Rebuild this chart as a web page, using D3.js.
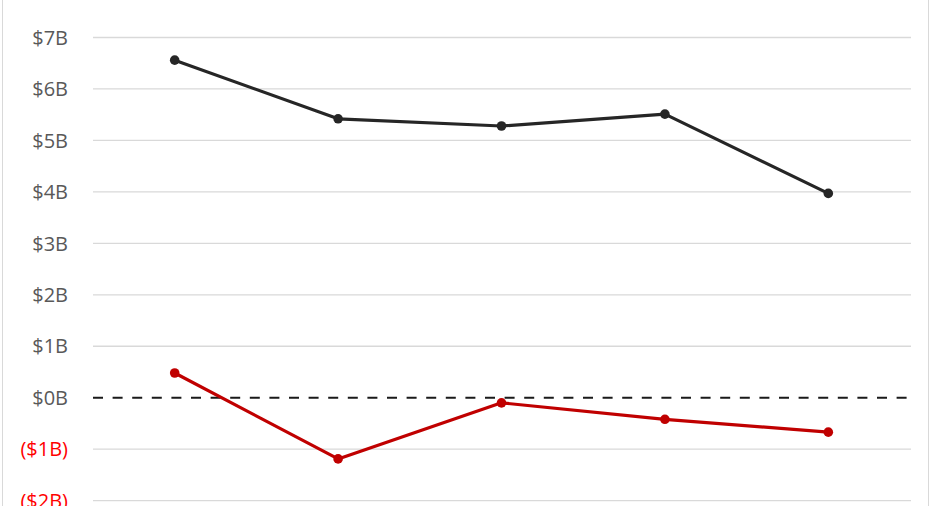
<!DOCTYPE html>
<html><head><meta charset="utf-8">
<script src="https://cdn.jsdelivr.net/npm/d3@7"></script>
<style>body{margin:0;background:#fff}svg{display:block}</style>
</head><body><svg id="c" width="931" height="506"></svg>
<script>
const categories = ["P1","P2","P3","P4","P5"];
const seriesA = [6.56, 5.42, 5.28, 5.51, 3.97];
const seriesB = [0.48, -1.19, -0.10, -0.42, -0.67];
const tickValues = [7,6,5,4,3,2,1,0,-1,-2];
const fmt = v => v < 0 ? "($" + Math.abs(v) + "B)" : "$" + v + "B";

const svg = d3.select("#c");
const W = 931, H = 506;
svg.append("line").attr("x1",2.5).attr("x2",2.5).attr("y1",0).attr("y2",H).attr("stroke","#d9d9d9").attr("stroke-width",1);
svg.append("line").attr("x1",928.5).attr("x2",928.5).attr("y1",0).attr("y2",H).attr("stroke","#d9d9d9").attr("stroke-width",1);

const x = d3.scaleBand().domain(categories).range([93, 910]);
const y = d3.scaleLinear().domain([-2, 7]).range([500.6, 37.5]);

svg.append("g").selectAll("line").data(tickValues.filter(v => v !== 0)).join("line")
  .attr("x1", 93).attr("x2", 911)
  .attr("y1", d => y(d)).attr("y2", d => y(d))
  .attr("stroke", "#d9d9d9").attr("stroke-width", 1.3);

svg.append("line").attr("x1",93).attr("x2",911).attr("y1",y(0)).attr("y2",y(0))
  .attr("stroke","#1a1a1a").attr("stroke-width",2).attr("stroke-dasharray","10,9.6");

svg.append("g").selectAll("text").data(tickValues).join("text")
  .attr("x", 68).attr("y", d => y(d)).attr("dy", "0.36em")
  .attr("text-anchor", "end")
  .attr("font-family", "'Open Sans', sans-serif").attr("font-size", 20)
  .attr("fill", d => d < 0 ? "#ff0000" : "#595959")
  .text(fmt);

const line = d3.line().x((d,i) => x(categories[i]) + x.bandwidth()/2).y(d => y(d));
[[seriesA, "#262626"], [seriesB, "#c00000"]].forEach(([s, col]) => {
  svg.append("path").datum(s).attr("d", line).attr("fill","none")
    .attr("stroke", col).attr("stroke-width", 3.2).attr("stroke-linejoin","round");
  svg.append("g").selectAll("circle").data(s).join("circle")
    .attr("cx", (d,i) => x(categories[i]) + x.bandwidth()/2).attr("cy", d => y(d))
    .attr("r", 4.8).attr("fill", col);
});
</script></body></html>
